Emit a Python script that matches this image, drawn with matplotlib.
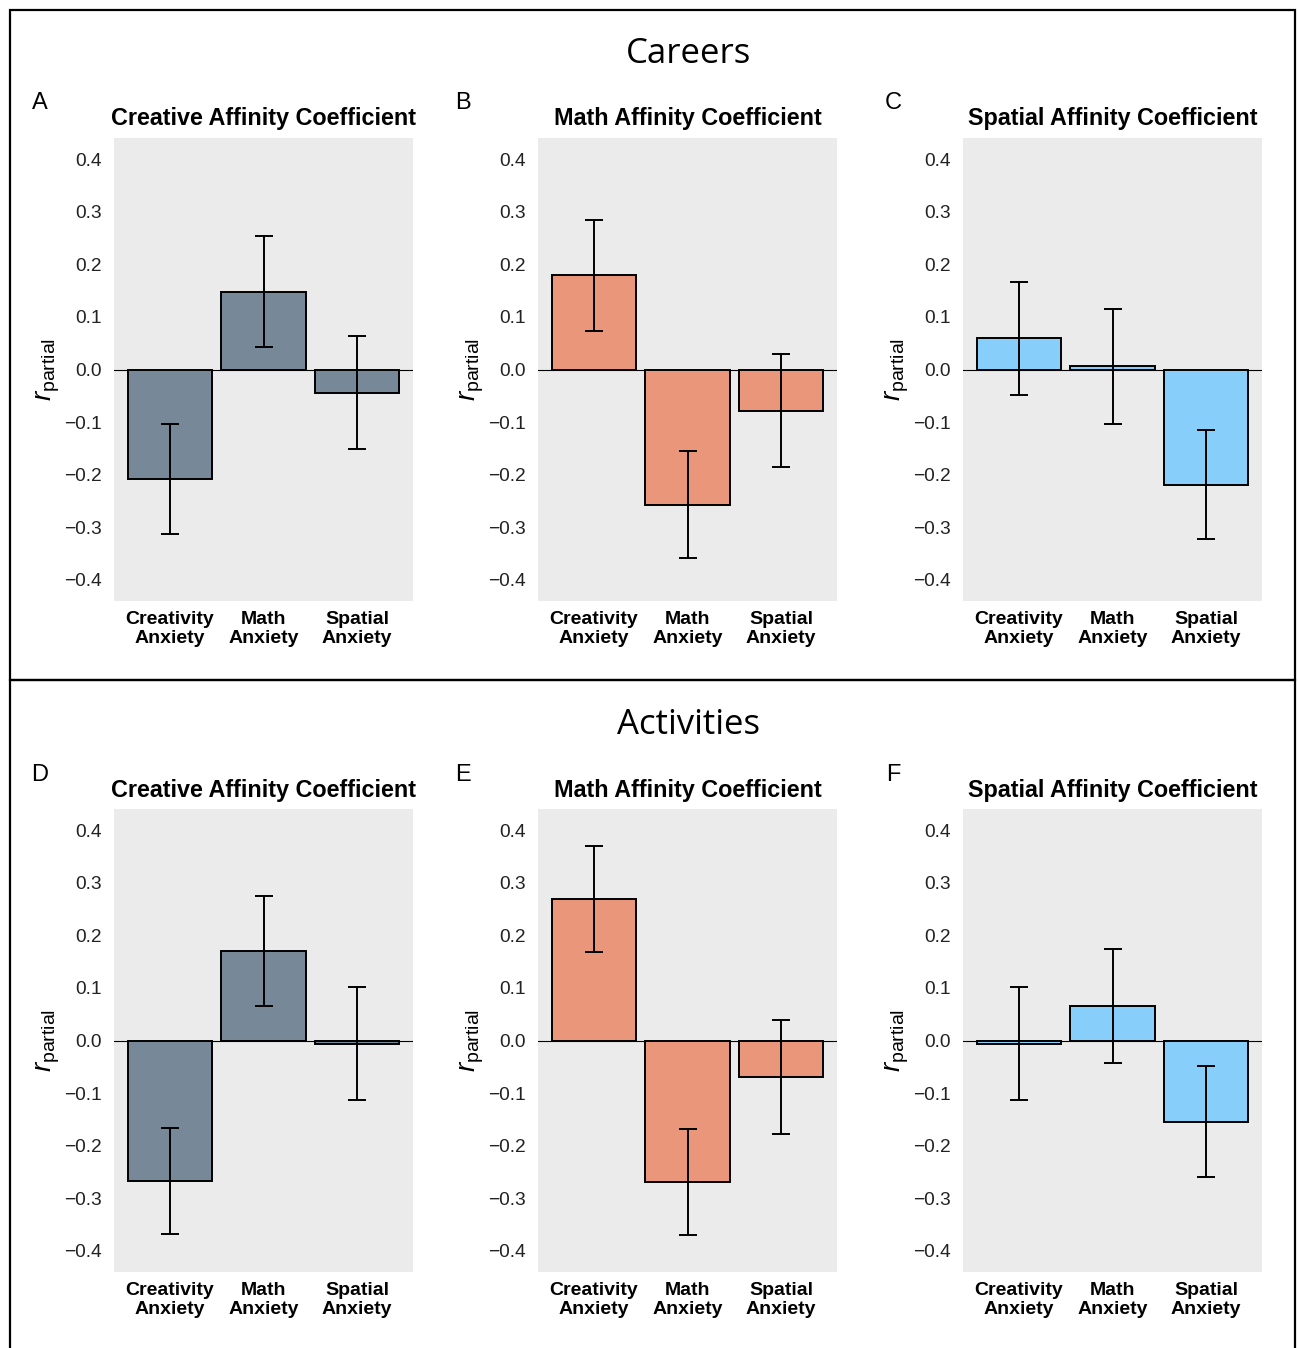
import numpy as np
import matplotlib.pyplot as plt
from matplotlib.patches import Rectangle

plt.rcParams['font.family'] = ['Liberation Sans', 'DejaVu Sans']
plt.rcParams['mathtext.fontset'] = 'custom'
plt.rcParams['mathtext.it'] = 'Liberation Sans:italic'
plt.rcParams['mathtext.rm'] = 'Liberation Sans'

categories = ["Creativity\nAnxiety", "Math\nAnxiety", "Spatial\nAnxiety"]
yticks = [-0.4, -0.3, -0.2, -0.1, 0.0, 0.1, 0.2, 0.3, 0.4]

# careers (A, B, C)
careers_creative = [-0.208, 0.148, -0.044]
careers_creative_err = [0.104, 0.106, 0.108]
careers_math = [0.179, -0.257, -0.078]
careers_math_err = [0.105, 0.102, 0.108]
careers_spatial = [0.059, 0.006, -0.219]
careers_spatial_err = [0.107, 0.109, 0.104]

# activities (D, E, F)
activities_creative = [-0.267, 0.170, -0.006]
activities_creative_err = [0.101, 0.105, 0.108]
activities_math = [0.269, -0.269, -0.069]
activities_math_err = [0.101, 0.101, 0.108]
activities_spatial = [-0.006, 0.065, -0.154]
activities_spatial_err = [0.108, 0.108, 0.105]

titles = ["Creative Affinity Coefficient", "Math Affinity Coefficient",
          "Spatial Affinity Coefficient"]
colors = ["#778899", "#E9967A", "#87CEFA"]

rows = [
    [(careers_creative, careers_creative_err),
     (careers_math, careers_math_err),
     (careers_spatial, careers_spatial_err)],
    [(activities_creative, activities_creative_err),
     (activities_math, activities_math_err),
     (activities_spatial, activities_spatial_err)],
]
letters = [["A", "B", "C"], ["D", "E", "F"]]
row_titles = ["Careers", "Activities"]

W, H = 1298, 1348
fig = plt.figure(figsize=(W / 100, H / 100), dpi=100)

# frames around the two sections
fig.patches.append(Rectangle((10 / W, 1 - 680 / H), 1285 / W, 670 / H,
                             transform=fig.transFigure, fill=False,
                             edgecolor="black", lw=1.6))
fig.patches.append(Rectangle((10 / W, -0.01), 1285 / W, 1 - 680 / H + 0.01,
                             transform=fig.transFigure, fill=False,
                             edgecolor="black", lw=1.6))

lefts = [114, 538, 963]
tops = [138, 809]
axw, axh = 299, 463
x = np.arange(1, 4)

for r in range(2):
    fig.text(689 / W, 1 - (54 + r * 671) / H, row_titles[r], ha="center",
             va="center", fontsize=25, family=["Open Sans", "DejaVu Sans"])
    for c in range(3):
        vals, errs = rows[r][c]
        ax = fig.add_axes([lefts[c] / W, 1 - (tops[r] + axh) / H, axw / W, axh / H])
        ax.set_facecolor("#EBEBEB")
        for s in ax.spines.values():
            s.set_visible(False)
        ax.axhline(0, color="black", lw=0.8, zorder=1)
        ax.bar(x, vals, width=0.9, color=colors[c], edgecolor="black",
               linewidth=1.4, zorder=2)
        ax.errorbar(x, vals, yerr=errs, fmt="none", ecolor="black",
                    elinewidth=1.4, capsize=6.5, capthick=1.4, zorder=3)
        ax.set_xlim(0.4, 3.6)
        ax.set_ylim(-0.44, 0.44)
        ax.set_yticks(yticks)
        ax.set_yticklabels(["\u2212%.1f" % abs(v) if v < 0 else "%.1f" % v
                            for v in yticks], fontsize=13.8, color="#222222")
        ax.set_xticks(x)
        ax.set_xticklabels(categories, fontsize=14, fontweight="bold",
                           linespacing=1.15)
        ax.tick_params(length=0, axis="y", pad=9)
        ax.tick_params(length=0, axis="x", pad=7.5)
        ax.set_ylabel(r"$r_{\mathrm{partial}}$", fontsize=20)
        ax.yaxis.set_label_coords(-0.175, 0.5)
        ax.set_title(titles[c], fontsize=16.8, fontweight="bold", pad=9)
        lx = [40, 463, 893][c]
        fig.text(lx / W, 1 - (103 + r * 672) / H, letters[r][c], ha="center",
                 va="center", fontsize=17)

fig.savefig("out.png", dpi=100)
